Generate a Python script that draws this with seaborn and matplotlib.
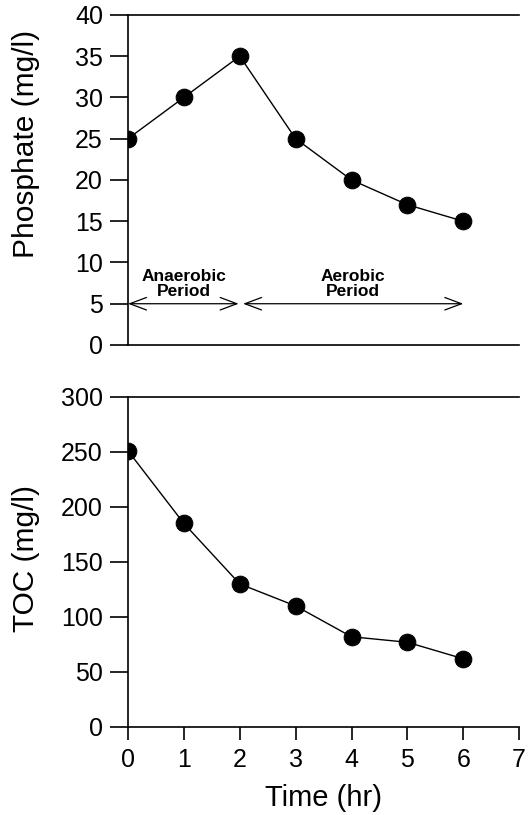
import seaborn as sns
import pandas as pd
import matplotlib.pyplot as plt

# data
time_hr = [0, 1, 2, 3, 4, 5, 6]
phosphate = [25, 30, 35, 25, 20, 17, 15]
toc = [251, 185, 130, 110, 82, 77, 62]

sns.set_style('ticks', {'axes.edgecolor': 'black', 'text.color': 'black',
                        'xtick.color': 'black', 'ytick.color': 'black',
                        'axes.labelcolor': 'black'})
plt.rcParams['font.family'] = ['Liberation Sans', 'DejaVu Sans']

df = pd.DataFrame({'time': time_hr, 'phosphate': phosphate, 'toc': toc})

fig = plt.figure(figsize=(5.3, 8.15), dpi=100)
ax1 = fig.add_axes([0.2415, 0.5767, 0.738, 0.405])
ax2 = fig.add_axes([0.2415, 0.1080, 0.738, 0.405])

for ax, col in [(ax1, 'phosphate'), (ax2, 'toc')]:
    sns.lineplot(x='time', y=col, data=df, ax=ax, color='black', linewidth=1,
                 marker='o', markersize=12, markeredgecolor='black')
    ax.set_xlim(0, 7)
    ax.spines['right'].set_visible(False)
    for s in ['left', 'top', 'bottom']:
        ax.spines[s].set_linewidth(1.2)
    ax.tick_params(axis='y', direction='out', length=13, width=1.2, pad=5, labelsize=18)

# top panel
ax1.set_ylim(0, 40)
ax1.set_yticks(range(0, 45, 5))
ax1.set_xticks([])
ax1.set_xlabel('')
ax1.set_ylabel('Phosphate (mg/l)', fontsize=21.5)
ax1.yaxis.set_label_coords(-0.225, 0.61)

# period arrows
arrow = dict(arrowstyle='<->,head_length=1.2,head_width=0.45', color='black', lw=0.9,
             shrinkA=0, shrinkB=0)
ax1.annotate('', xy=(0, 5), xytext=(1.98, 5), arrowprops=arrow)
ax1.annotate('', xy=(2.06, 5), xytext=(6.0, 5), arrowprops=arrow)
ax1.text(1.0, 7.4, 'Anaerobic\nPeriod', ha='center', va='center', fontsize=12.5,
         fontweight='bold', linespacing=1.05)
ax1.text(4.03, 7.4, 'Aerobic\nPeriod', ha='center', va='center', fontsize=12.5,
         fontweight='bold', linespacing=1.05)

# bottom panel
ax2.set_ylim(0, 300)
ax2.set_yticks(range(0, 350, 50))
ax2.set_xticks(range(0, 8))
ax2.tick_params(axis='x', direction='out', length=9, width=1.2, pad=6, labelsize=18)
ax2.set_xlabel('Time (hr)', fontsize=21, labelpad=9)
ax2.set_ylabel('TOC (mg/l)', fontsize=21.5)
ax2.yaxis.set_label_coords(-0.225, 0.51)

plt.savefig('out.png', dpi=100)
